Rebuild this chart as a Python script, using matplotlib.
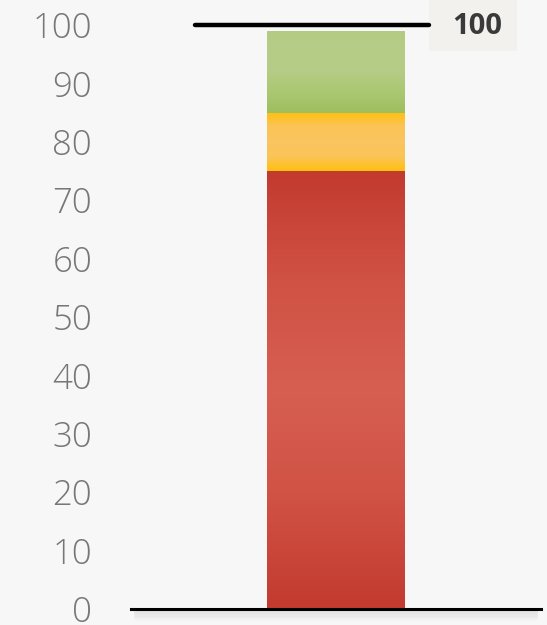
import numpy as np
import matplotlib
matplotlib.use("Agg")
import matplotlib.pyplot as plt
from matplotlib.colors import LinearSegmentedColormap
from matplotlib.patches import Rectangle

# Data
category = ["Value"]
band_names = ["Poor", "Fair", "Good"]
band_tops = [75, 85, 99]
target = 100
y_ticks = [0, 10, 20, 30, 40, 50, 60, 70, 80, 90, 100]

band_colors = [
    ["#c33a2f", "#d05244", "#d65f52", "#d05244", "#c33a2f"],
    ["#ffc010", "#fbc458", "#fac55f", "#fbc458", "#ffc010"],
    ["#9fbe5e", "#aac871", "#b4cc85", "#b5cd87", "#b3cb83"],
]

bg = "#f7f7f7"
fig = plt.figure(figsize=(5.47, 6.25), dpi=100, facecolor=bg)
ax = fig.add_axes([131/547, 16/625, 410/547, 584/625])
ax.set_facecolor(bg)
ax.set_xlim(-1, 1)
ax.set_ylim(0, 100)

bar_w = 0.673
x0 = 0.0
bottoms = [0] + band_tops[:-1]
for b, t, cols in zip(bottoms, band_tops, band_colors):
    rect = ax.bar(x0, t - b, bottom=b, width=bar_w, color="none", edgecolor="none", zorder=2)[0]
    cmap = LinearSegmentedColormap.from_list("g", cols)
    grad = np.linspace(0, 1, 256).reshape(-1, 1)
    im = ax.imshow(grad, cmap=cmap, aspect="auto", origin="lower",
                   extent=(x0 - bar_w/2, x0 + bar_w/2, b, t), zorder=2, interpolation="bilinear")
    im.set_clip_path(rect)
ax.set_xlim(-1, 1)
ax.set_ylim(0, 100)

# target line
ax.plot([-0.688, 0.454], [target, target], color="black", lw=3.2,
        solid_capstyle="round", zorder=4, clip_on=False)
# label box
ax.add_patch(Rectangle((0.454, target - 4.5), 0.883 - 0.454, 13.5, facecolor="#f2f1ed",
                       edgecolor="none", zorder=3, clip_on=False))
ax.text((0.454 + 0.883) / 2 + 0.02, target - 0.3, str(target), ha="center", va="center",
        fontsize=21, fontweight="bold", color="#3a3a3a", family="Open Sans", zorder=5, clip_on=False)

# baseline with soft shadow
n = 12
for i in range(n):
    a = 0.05 * (1 - i / n)
    ax.plot([-0.98, 0.98], [-0.4 - i*0.15, -0.4 - i*0.15], color="black", alpha=a, lw=1.2,
            clip_on=False, zorder=1)
ax.plot([-1, 1], [0, 0], color="black", lw=2.2, clip_on=False, zorder=5)

for s in ax.spines.values():
    s.set_visible(False)
ax.set_xticks([])
ax.set_yticks(y_ticks)
ax.set_yticklabels([str(v) for v in y_ticks], family="Open Sans", fontweight="light",
                   fontsize=25, color="#777777")
ax.tick_params(axis="y", length=0, pad=28)

fig.savefig("out.png", dpi=100, facecolor=bg)
